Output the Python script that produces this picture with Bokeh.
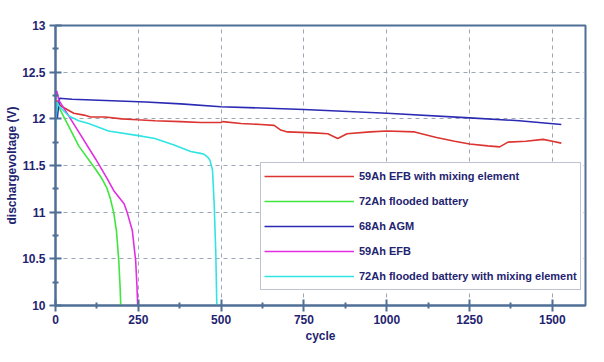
from bokeh.plotting import figure
from bokeh.models import FixedTicker, Legend, LegendItem, Range1d
from bokeh.embed import file_html
from bokeh.resources import INLINE

# ---- data ----
efb_mix_cycle = [3, 15, 55, 86, 106, 150, 200, 247, 300, 378, 438, 499, 505, 560, 620, 660, 680, 700,
                 780, 822, 852, 880, 950, 1000, 1084, 1150, 1205, 1250, 1305, 1341, 1366, 1420, 1472, 1500, 1527]
efb_mix_volt = [12.20, 12.14, 12.06, 12.04, 12.02, 12.02, 12.00, 11.99, 11.98, 11.97, 11.96, 11.96, 11.97,
                11.95, 11.94, 11.93, 11.88, 11.86, 11.85, 11.84, 11.79, 11.84, 11.86, 11.87, 11.86, 11.80,
                11.76, 11.73, 11.71, 11.70, 11.75, 11.76, 11.78, 11.76, 11.74]

flooded_cycle = [3, 8, 40, 70, 121, 140, 155, 166, 176, 184, 191, 195, 197]
flooded_volt = [12.15, 12.14, 11.92, 11.71, 11.46, 11.36, 11.26, 11.14, 10.99, 10.80, 10.48, 10.20, 10.00]

agm_cycle = [5, 12, 50, 272, 378, 499, 750, 1001, 1250, 1400, 1527]
agm_volt = [12.00, 12.22, 12.21, 12.18, 12.16, 12.13, 12.10, 12.06, 12.01, 11.98, 11.94]

efb_cycle = [0, 4, 10, 70, 121, 156, 176, 207, 217, 232, 242, 246, 248]
efb_volt = [12.22, 12.30, 12.20, 11.86, 11.57, 11.36, 11.23, 11.09, 10.99, 10.80, 10.48, 10.20, 10.00]

flooded_mix_cycle = [0, 5, 10, 40, 70, 100, 130, 160, 250, 300, 358, 408, 438, 449, 459, 466, 474, 479, 484, 487]
flooded_mix_volt = [11.89, 12.18, 12.14, 12.03, 11.98, 11.95, 11.91, 11.87, 11.82, 11.79, 11.72, 11.65,
                    11.63, 11.62, 11.59, 11.56, 11.45, 11.09, 10.55, 10.00]

series_names = ["59Ah EFB with mixing element", "72Ah flooded battery", "68Ah AGM", "59Ah EFB",
                "72Ah flooded battery with mixing element"]
series_colors = ["#dc3430", "#3ee63e", "#2a2ab4", "#e22ee2", "#30e4e4"]

x_ticks = [0, 250, 500, 750, 1000, 1250, 1500]
x_minor = [125, 375, 625, 875, 1125, 1375]
y_ticks = [10, 10.5, 11, 11.5, 12, 12.5, 13]
y_tick_labels = ["10", "10.5", "11", "11.5", "12", "12.5", "13"]
y_minor = [10.25, 10.75, 11.25, 11.75, 12.25, 12.75]

AXIS = "#4f6f96"
TEXT = "#1f2470"
FONT = "Liberation Sans"

p = figure(width=604, height=362, output_backend="svg", toolbar_location=None,
           x_range=Range1d(0, 1600), y_range=Range1d(10, 13),
           min_border_left=55, min_border_right=19, min_border_top=25, min_border_bottom=57)
p.background_fill_color = "white"
p.border_fill_color = "white"
p.outline_line_color = AXIS
p.outline_line_width = 2

xs = [efb_mix_cycle, flooded_cycle, agm_cycle, efb_cycle, flooded_mix_cycle]
ys = [efb_mix_volt, flooded_volt, agm_volt, efb_volt, flooded_mix_volt]
renderers = []
for x, y, c in zip(xs, ys, series_colors):
    renderers.append(p.line(x, y, line_color=c, line_width=1.6))

p.xaxis.ticker = FixedTicker(ticks=x_ticks, minor_ticks=x_minor)
p.yaxis.ticker = FixedTicker(ticks=y_ticks, minor_ticks=y_minor)
p.yaxis.major_label_overrides = {t: l for t, l in zip(y_ticks, y_tick_labels)}

for ax in (p.xaxis[0], p.yaxis[0]):
    ax.axis_line_color = AXIS
    ax.axis_line_width = 2
    ax.major_tick_line_color = AXIS
    ax.major_tick_line_width = 2
    ax.minor_tick_line_color = AXIS
    ax.minor_tick_line_width = 2
    ax.major_tick_in = 6
    ax.major_tick_out = 6
    ax.minor_tick_in = 3
    ax.minor_tick_out = 3
    ax.major_label_text_font = FONT
    ax.major_label_text_font_style = "bold"
    ax.major_label_text_font_size = "12px"
    ax.major_label_text_color = TEXT
    ax.axis_label_text_font = FONT
    ax.axis_label_text_font_style = "bold"
    ax.axis_label_text_font_size = "12px"
    ax.axis_label_text_color = TEXT

p.xaxis.axis_label = "cycle"
p.yaxis.axis_label = "dischargevoltage (V)"
p.xaxis.major_label_standoff = 3
p.yaxis.major_label_standoff = 4
p.xaxis.axis_label_standoff = 2
p.yaxis.axis_label_standoff = 0

for g in (p.xgrid[0], p.ygrid[0]):
    g.grid_line_color = "#9ca6b6"
    g.grid_line_dash = "4 4"
    g.grid_line_width = 1

legend = Legend(items=[LegendItem(label=n, renderers=[r]) for n, r in zip(series_names, renderers)],
                location=(205, 15))
legend.glyph_width = 90
legend.glyph_height = 20
legend.label_height = 20
legend.spacing = 5
legend.padding = 3
legend.margin = 0
legend.label_standoff = 5
legend.label_text_font = FONT
legend.label_text_font_style = "bold"
legend.label_text_font_size = "11px"
legend.label_text_color = TEXT
legend.border_line_color = "#7c88a8"
legend.border_line_width = 1
legend.background_fill_color = "white"
legend.background_fill_alpha = 1
p.add_layout(legend, "center")

open("out.html", "w").write(file_html(p, INLINE))
